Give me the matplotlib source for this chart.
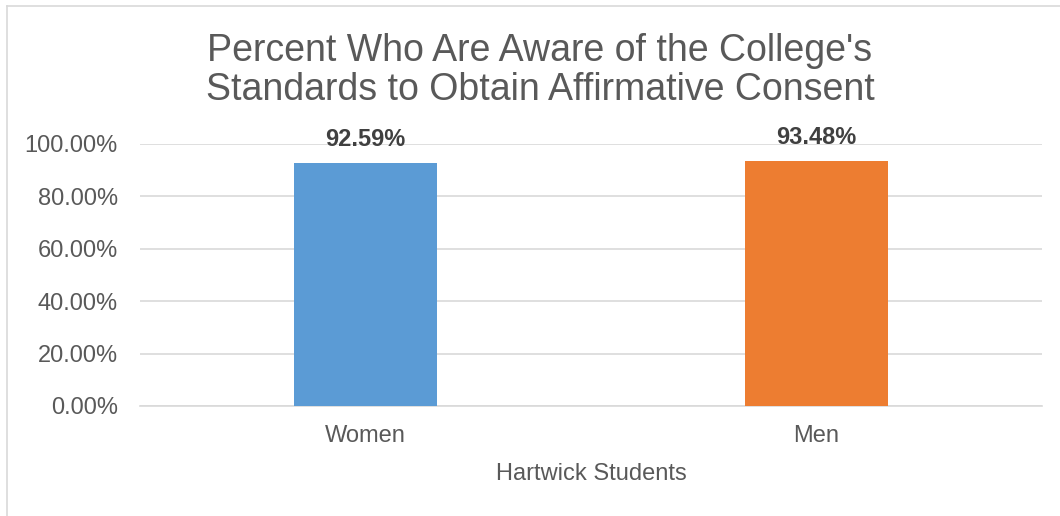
import matplotlib.pyplot as plt
import matplotlib.ticker as mticker
from matplotlib.lines import Line2D

# Data
groups = ["Women", "Men"]
aware = [0.9259, 0.9348]
bar_colors = ["#5B9BD5", "#ED7D31"]
title = "Percent Who Are Aware of the College's\nStandards to Obtain Affirmative Consent"

txt = "#595959"
grid_c = "#D9D9D9"
plt.rcParams['font.family'] = ['Liberation Sans', 'DejaVu Sans']

fig = plt.figure(figsize=(10.6, 5.16), dpi=100)
ax = fig.add_axes([140/1060, 1 - 406/516, 902/1060, 262/516])

x = range(len(groups))
bars = ax.bar(x, aware, width=0.315, color=bar_colors, zorder=3)

for b, v in zip(bars, aware):
    ax.annotate(f"{v*100:.2f}%", (b.get_x() + b.get_width()/2, v),
                xytext=(0, 9), textcoords="offset points",
                ha="center", va="bottom", fontsize=17, fontweight="bold",
                color="#404040")

ax.set_xlim(-0.5, 1.5)
ax.set_ylim(0, 1.0)
ax.set_yticks([0, 0.2, 0.4, 0.6, 0.8, 1.0])
ax.yaxis.set_major_formatter(mticker.FuncFormatter(lambda v, p: f"{v*100:.2f}%"))
ax.set_xticks(list(x))
ax.set_xticklabels(groups)
ax.tick_params(axis="y", length=0, pad=16, labelsize=17, labelcolor=txt)
ax.tick_params(axis="x", length=0, pad=14, labelsize=17, labelcolor=txt)
ax.grid(axis="y", color=grid_c, linewidth=1.2, zorder=0)
for s in ["top", "right", "left"]:
    ax.spines[s].set_visible(False)
ax.spines["bottom"].set_color(grid_c)
ax.spines["bottom"].set_linewidth(1.2)
ax.set_xlabel("Hartwick Students", fontsize=17, color=txt, labelpad=11)

fig.text(540/1060, 1 - 33/516, title, ha="center", va="top", fontsize=27,
         color=txt, linespacing=1.12)

# chart-area border (left and top edges visible)
fig.add_artist(Line2D([7/1060, 7/1060], [0, 1 - 6/516], color=grid_c, lw=1.2,
                      transform=fig.transFigure))
fig.add_artist(Line2D([7/1060, 1], [1 - 6/516, 1 - 6/516], color=grid_c, lw=1.2,
                      transform=fig.transFigure))

fig.savefig("out.png", dpi=100)
